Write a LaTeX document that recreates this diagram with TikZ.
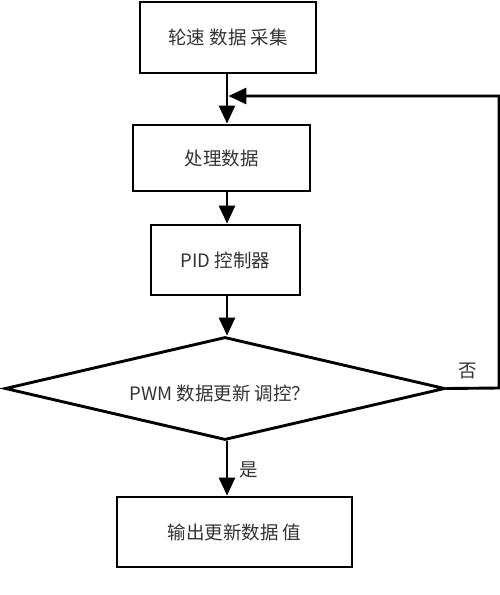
\documentclass[tikz,border=0pt]{standalone}
\usepackage{fontspec}
\newfontfamily\cjk{Noto Sans CJK SC}
\usetikzlibrary{shapes.geometric,arrows.meta}
\begin{document}
\begin{tikzpicture}[x=1pt,y=-1pt,
  box/.style={draw=black,line width=2.9pt,fill=white,inner sep=0pt,font=\cjk\fontsize{18.5}{22}\selectfont,text=black!80},
  decide/.style={diamond,draw=black,line width=2.9pt,fill=white,inner sep=0pt},
  flow/.style={line width=2.9pt,-{Triangle[width=16pt,length=18pt]}},
  lab/.style={font=\cjk\fontsize{18.5}{22}\selectfont,text=black!80}]
\useasboundingbox[fill=white] (0,0) rectangle (500,595);
\node[box,minimum width=176pt,minimum height=71pt] (b1) at (228,37.5) {轮速 数据 采集};
\node[box,minimum width=177pt,minimum height=66pt] (b2) at (221.5,158) {处理数据};
\node[box,minimum width=149pt,minimum height=70pt] (b3) at (225.5,260) {PID 控制器};
\node[decide,minimum width=440pt,minimum height=103pt] (d) at (225,388.5) {};
\node[lab] (dt) at (220,393) {PWM 数据更新 调控？};
\node[box,minimum width=235pt,minimum height=70pt] (b4) at (234.5,532) {输出更新数据 值};
\node[lab] (no) at (468,371) {否};
\node[lab] (yes) at (249,470) {是};
\coordinate (j) at (227,96);
\coordinate (r) at (499,388);
\draw[flow] (b1.south -| j) -- (b2.north -| j);
\draw[flow] (b2.south -| j) -- (b3.north -| j);
\draw[flow] (b3.south -| j) -- (d.north -| j);
\draw[flow] (d.south -| j) -- (b4.north -| j);
\draw[flow] (d.east) -- (r) |- ([xshift=1.4pt]j);
\end{tikzpicture}
\end{document}
